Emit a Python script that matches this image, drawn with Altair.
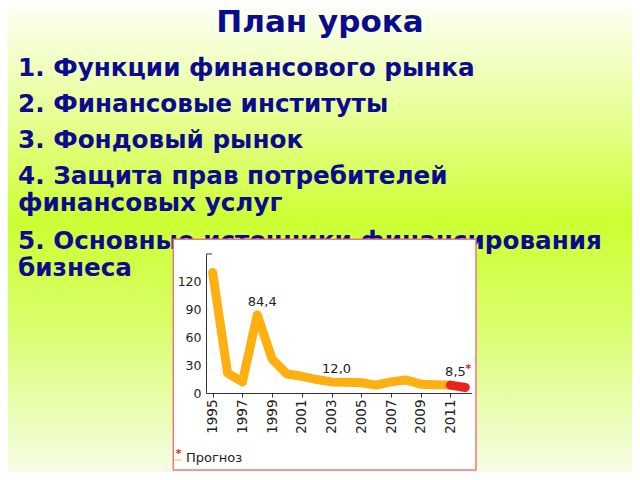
import altair as alt
import pandas as pd

# ---- slide text ----
title_text = "План урока"
items = [
    "1. Функции финансового рынка",
    "2. Финансовые институты",
    "3. Фондовый рынок",
    ["4. Защита прав потребителей", "финансовых услуг"],
    ["5. Основные источники финансирования", "бизнеса"],
]

# ---- chart data ----
years = [1995, 1996, 1997, 1998, 1999, 2000, 2001, 2002, 2003, 2004,
         2005, 2006, 2007, 2008, 2009, 2010, 2011]
values = [130, 21.5, 12, 84.4, 36.5, 20.5, 18, 14.5, 12.0, 11.5,
          11, 8.5, 12, 14, 9.5, 9, 8.5]
forecast_years = [2011, 2012]
forecast_values = [8.5, 6.0]
label_years = [1998, 2003, 2011]
label_values = [84.4, 12.0, 8.5]
label_texts = ["84,4", "12,0", "8,5"]
y_ticks = [0, 30, 60, 90, 120]
x_ticks = [1995, 1997, 1999, 2001, 2003, 2005, 2007, 2009, 2011]
legend_text = "Прогноз"

W, H = 624, 464
NAVY = "#0b0b8e"
ORANGE = "#FDB00F"
RED = "#E8231E"
TXT = "#222222"

one = pd.DataFrame({"d": [0]})
main = pd.DataFrame({"year": years, "value": values})
fc = pd.DataFrame({"year": forecast_years, "value": forecast_values})
lab = pd.DataFrame({"year": label_years, "value": label_values, "t": label_texts})

xs = alt.Scale(domain=[1994.55, 2012.43], range=[198, 463.7], nice=False, zero=False)
ys = alt.Scale(domain=[0, 150], range=[385, 246], nice=False, zero=False)

x_axis = alt.Axis(
    values=x_ticks, format="d", labelAngle=270, labelAlign="right",
    labelBaseline="middle", offset=-79, tickSize=4, labelPadding=2,
    domainColor="#333", tickColor="#333", labelColor=TXT,
    labelFont="DejaVu Sans", labelFontSize=13.5, grid=False, title=None,
    zindex=1,
)
y_axis = alt.Axis(
    values=y_ticks, offset=-198, tickSize=0, labelPadding=5,
    domainColor="#333", labelColor=TXT, labelFont="DejaVu Sans",
    labelFontSize=12.5, grid=False, title=None, zindex=1,
)
X = alt.X("year:Q", scale=xs, axis=x_axis)
Y = alt.Y("value:Q", scale=ys, axis=y_axis)

bg = alt.Chart(one).mark_rect(
    color=alt.Gradient(
        gradient="linear", x1=0, y1=0, x2=0, y2=1,
        stops=[
            alt.GradientStop(color="#fbfff2", offset=0),
            alt.GradientStop(color="#e6ff8c", offset=0.25),
            alt.GradientStop(color="#ccff33", offset=0.46),
            alt.GradientStop(color="#d8fe6a", offset=0.68),
            alt.GradientStop(color="#f6fde6", offset=1),
        ],
    )
).encode(x=alt.value(0), x2=alt.value(W), y=alt.value(0), y2=alt.value(H))

layers = [bg]

layers.append(
    alt.Chart(one).mark_text(
        text=title_text, font="DejaVu Sans", fontSize=31, fontWeight="bold",
        color=NAVY, align="center", baseline="alphabetic",
    ).encode(x=alt.value(312), y=alt.value(24))
)

item_y = [68, 103.7, 140, 176, 241]
for it, yy in zip(items, item_y):
    layers.append(
        alt.Chart(one).mark_text(
            text=it, font="DejaVu Sans", fontSize=24.7, fontWeight="bold",
            color=NAVY, align="left", baseline="alphabetic", lineHeight=27,
        ).encode(x=alt.value(10), y=alt.value(yy))
    )

# white picture box with red border
layers.append(
    alt.Chart(one).mark_rect(fill="white", stroke="#F07878", strokeWidth=1.5).encode(
        x=alt.value(165.3), x2=alt.value(468), y=alt.value(231.3), y2=alt.value(462)
    )
)

layers.append(
    alt.Chart(main).mark_line(
        color=ORANGE, strokeWidth=9, strokeCap="round", strokeJoin="round"
    ).encode(x=X, y=Y)
)

layers.append(
    alt.Chart(fc).mark_line(
        color=RED, strokeWidth=9, strokeCap="round", strokeJoin="round"
    ).encode(x=X, y=Y)
)

# top tick of y axis
layers.append(
    alt.Chart(one).mark_rule(color="#333", strokeWidth=1).encode(
        y=alt.YDatum(150, scale=ys, axis=y_axis), x=alt.value(198), x2=alt.value(204)
    )
)

layers.append(
    alt.Chart(lab).mark_text(
        font="DejaVu Sans", fontSize=13, color=TXT, align="center",
        baseline="alphabetic", dx=5, dy=-9,
    ).encode(x=X, y=Y, text="t:N")
)

# red asterisk after the forecast label
layers.append(
    alt.Chart(lab[lab["year"] == 2011]).mark_text(
        text="*", font="DejaVu Sans", fontSize=11, fontWeight="bold", color=RED,
        align="left", baseline="alphabetic", dx=15, dy=-13,
    ).encode(x=X, y=Y)
)

# legend
layers.append(
    alt.Chart(one).mark_text(
        text="*", font="DejaVu Sans", fontSize=11, fontWeight="bold", color=RED,
        align="center", baseline="alphabetic",
    ).encode(x=alt.value(170.5), y=alt.value(449))
)
layers.append(
    alt.Chart(one).mark_rule(color="#F7D27A", strokeWidth=1.5).encode(
        x=alt.value(166), x2=alt.value(174), y=alt.value(452)
    )
)
layers.append(
    alt.Chart(one).mark_text(
        text=legend_text, font="DejaVu Sans", fontSize=13, color=TXT,
        align="left", baseline="alphabetic",
    ).encode(x=alt.value(178), y=alt.value(454))
)

chart = alt.layer(*layers).properties(
    width=W, height=H, autosize=alt.AutoSizeParams(type="none"), padding=0
).configure_view(stroke=None)

chart.save("out.html", embed_options={"renderer": "svg", "actions": False})
